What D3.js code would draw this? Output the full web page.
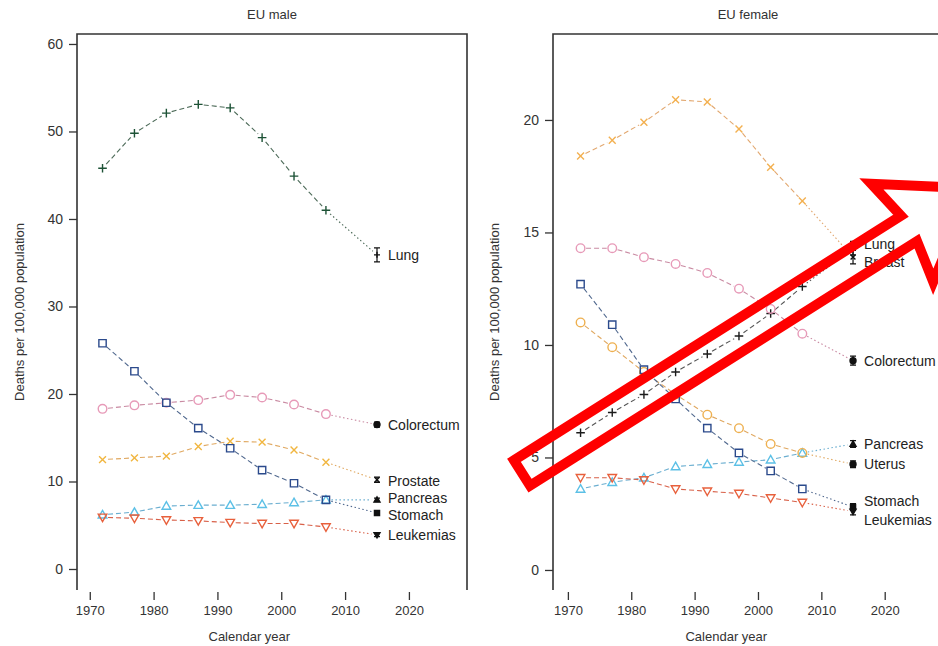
<!DOCTYPE html>
<html>
<head>
<meta charset="utf-8">
<script src="https://cdn.jsdelivr.net/npm/d3@7"></script>
<style>
  body { margin: 0; background: #fff; }
  svg { display: block; font-family: "Liberation Sans", Arial, sans-serif; }
</style>
</head>
<body>
<svg id="chart" width="938" height="646"></svg>
<script>
// observed years + 2015 prediction (last value of every series)
const years = [1972, 1977, 1982, 1987, 1992, 1997, 2002, 2007, 2015];
const xTicks = [1970, 1980, 1990, 2000, 2010, 2020];

// EU male, deaths per 100,000 population
const maleSites = ["Lung", "Colorectum", "Prostate", "Pancreas", "Stomach", "Leukemias"];
const maleLung = [45.8, 49.8, 52.1, 53.1, 52.7, 49.3, 44.9, 41.0, 35.9];
const maleColorectum = [18.3, 18.7, 19.0, 19.3, 19.9, 19.6, 18.8, 17.7, 16.5];
const maleProstate = [12.5, 12.7, 12.9, 14.0, 14.6, 14.5, 13.6, 12.2, 10.2];
const malePancreas = [6.2, 6.5, 7.2, 7.3, 7.3, 7.4, 7.6, 7.9, 7.9];
const maleStomach = [25.8, 22.6, 19.0, 16.1, 13.8, 11.3, 9.8, 7.9, 6.4];
const maleLeukemias = [5.9, 5.8, 5.6, 5.5, 5.3, 5.2, 5.2, 4.8, 3.9];
const maleHalfInterval = [0.8, 0.3, 0.3, 0.2, 0.2, 0.2];
const maleYTicks = [0, 10, 20, 30, 40, 50, 60];

// EU female, deaths per 100,000 population
const femaleSites = ["Breast", "Lung", "Colorectum", "Pancreas", "Uterus", "Stomach", "Leukemias"];
const femaleBreast = [18.4, 19.1, 19.9, 20.9, 20.8, 19.6, 17.9, 16.4, 13.9];
const femaleLung = [6.1, 7.0, 7.8, 8.8, 9.6, 10.4, 11.4, 12.6, 14.3];
const femaleColorectum = [14.3, 14.3, 13.9, 13.6, 13.2, 12.5, 11.6, 10.5, 9.3];
const femalePancreas = [3.6, 3.9, 4.1, 4.6, 4.7, 4.8, 4.9, 5.2, 5.6];
const femaleUterus = [11.0, 9.9, 8.8, 7.8, 6.9, 6.3, 5.6, 5.2, 4.7];
const femaleStomach = [12.7, 10.9, 8.9, 7.6, 6.3, 5.2, 4.4, 3.6, 2.8];
const femaleLeukemias = [4.1, 4.1, 4.0, 3.6, 3.5, 3.4, 3.2, 3.0, 2.6];
const femaleHalfInterval = [0.3, 0.3, 0.2, 0.15, 0.15, 0.15, 0.15];
const femaleYTicks = [0, 5, 10, 15, 20];

const svg = d3.select("#chart");

function markerPath(shape, r) {
  const p = d3.path();
  if (shape === "plus") {
    p.moveTo(-r, 0); p.lineTo(r, 0); p.moveTo(0, -r); p.lineTo(0, r);
  } else if (shape === "cross") {
    const s = r * 0.8;
    p.moveTo(-s, -s); p.lineTo(s, s); p.moveTo(-s, s); p.lineTo(s, -s);
  } else if (shape === "circle") {
    p.moveTo(r, 0); p.arc(0, 0, r, 0, 2 * Math.PI);
  } else if (shape === "square") {
    const s = r * 0.85;
    p.rect(-s, -s, 2 * s, 2 * s);
  } else if (shape === "triangle") {
    p.moveTo(0, -r); p.lineTo(r, r * 0.75); p.lineTo(-r, r * 0.75); p.closePath();
  } else if (shape === "triangleDown") {
    p.moveTo(0, r); p.lineTo(r, -r * 0.75); p.lineTo(-r, -r * 0.75); p.closePath();
  }
  return p.toString();
}

function drawPanel(cfg) {
  const x = d3.scaleLinear().domain(cfg.xDomain).range([cfg.left, cfg.right]);
  const y = d3.scaleLinear().domain(cfg.yDomain).range([590, 34]);
  const g = svg.append("g");

  // title
  g.append("text")
    .attr("x", (cfg.left + cfg.left + 390) / 2)
    .attr("y", 19)
    .attr("text-anchor", "middle")
    .style("font-size", "13px")
    .attr("fill", "#333")
    .text(cfg.title);

  // frame: top, left, right (no bottom line)
  g.append("path")
    .attr("d", `M${cfg.left},590V34H${cfg.right}V590`)
    .attr("fill", "none")
    .attr("stroke", "#333")
    .attr("stroke-width", 1.6);

  // y axis
  const yAxis = g.append("g").attr("transform", `translate(${cfg.left},0)`)
    .call(d3.axisLeft(y).tickValues(cfg.yTicks).tickSize(8).tickPadding(6));
  yAxis.select(".domain").remove();
  yAxis.selectAll("line").attr("stroke", "#333").attr("stroke-width", 1.3);
  yAxis.selectAll("text").style("font-size", "14px").attr("fill", "#333")
    .style("font-family", "Liberation Sans, Arial, sans-serif");

  // x axis (ticks detached from frame)
  const xAxis = g.append("g").attr("transform", "translate(0,592)")
    .call(d3.axisBottom(x).tickValues(xTicks).tickFormat(d3.format("d")).tickSize(8).tickPadding(6));
  xAxis.select(".domain").remove();
  xAxis.selectAll("line").attr("stroke", "#333").attr("stroke-width", 1.3);
  xAxis.selectAll("text").style("font-size", "13px").attr("fill", "#333")
    .style("font-family", "Liberation Sans, Arial, sans-serif");

  g.append("text")
    .attr("x", (x(1970) + x(2020)) / 2)
    .attr("y", 641)
    .attr("text-anchor", "middle")
    .style("font-size", "13px")
    .attr("fill", "#333")
    .text("Calendar year");

  g.append("text")
    .attr("transform", `translate(${cfg.yLabelX},312) rotate(-90)`)
    .attr("text-anchor", "middle")
    .style("font-size", "13px")
    .attr("fill", "#333")
    .text("Deaths per 100,000 population");

  const gap = 5.5;
  cfg.series.forEach(s => {
    const pts = years.map((yr, i) => [x(yr), y(s.values[i])]);
    const segs = d3.pairs(pts);
    g.append("g").selectAll("line")
      .data(segs)
      .join("line")
      .each(function (d) {
        const [a, b] = d;
        const dx = b[0] - a[0], dy = b[1] - a[1];
        const len = Math.hypot(dx, dy);
        const ux = dx / len, uy = dy / len;
        d3.select(this)
          .attr("x1", a[0] + ux * gap).attr("y1", a[1] + uy * gap)
          .attr("x2", b[0] - ux * gap).attr("y2", b[1] - uy * gap);
      })
      .attr("stroke", s.lineColor)
      .attr("stroke-width", 1.1)
      .attr("stroke-dasharray", (d, i) => i === segs.length - 1 ? "1.5,2.5" : "5,3");

    // observed points: open markers
    g.append("g").selectAll("path")
      .data(pts.slice(0, -1))
      .join("path")
      .attr("transform", d => `translate(${d[0]},${d[1]})`)
      .attr("d", markerPath(s.shape, 4.3))
      .attr("fill", "none")
      .attr("stroke", s.color)
      .attr("stroke-width", 1.4);

    // prediction with interval
    const yr = years[years.length - 1];
    const v = s.values[s.values.length - 1];
    const h = s.half;
    const px = x(yr);
    const pg = g.append("g");
    pg.append("path")
      .attr("d", `M${px},${y(v + h)}V${y(v - h)}M${px - 3},${y(v + h)}H${px + 3}M${px - 3},${y(v - h)}H${px + 3}`)
      .attr("stroke", "#111").attr("stroke-width", 1.2).attr("fill", "none");
    pg.append("path")
      .attr("transform", `translate(${px},${y(v)})`)
      .attr("d", markerPath(s.shape, 3))
      .attr("fill", "#111")
      .attr("stroke", "#111")
      .attr("stroke-width", 1.4);

    g.append("text")
      .attr("x", px + 11)
      .attr("y", y(v) + (s.nudge || 0))
      .attr("dy", "0.35em")
      .style("font-size", "14px")
      .attr("fill", "#222")
      .text(s.name);
  });
}

const maleStyle = {
  Lung: { shape: "plus", color: "#1d5236", lineColor: "#4c6a58" },
  Colorectum: { shape: "circle", color: "#e79ab8", lineColor: "#c98aa2" },
  Prostate: { shape: "cross", color: "#f1b640", lineColor: "#e0a860" },
  Pancreas: { shape: "triangle", color: "#5cc0e6", lineColor: "#6aaed0" },
  Stomach: { shape: "square", color: "#2b4a8c", lineColor: "#50688e" },
  Leukemias: { shape: "triangleDown", color: "#e8603c", lineColor: "#d86048" }
};
const femaleStyle = {
  Breast: { shape: "cross", color: "#f3b050", lineColor: "#e2a870" },
  Lung: { shape: "plus", color: "#1b1b1b", lineColor: "#555" },
  Colorectum: { shape: "circle", color: "#e79ab8", lineColor: "#c98aa2" },
  Pancreas: { shape: "triangle", color: "#5cc0e6", lineColor: "#6aaed0" },
  Uterus: { shape: "circle", color: "#eeb050", lineColor: "#e0a860" },
  Stomach: { shape: "square", color: "#2b4a8c", lineColor: "#50688e" },
  Leukemias: { shape: "triangleDown", color: "#e8603c", lineColor: "#d86048" }
};
const maleNudge = { Prostate: 1, Pancreas: -2, Stomach: 2 };
const femaleNudge = { Lung: -4, Breast: 5, Stomach: -6, Leukemias: 9 };

const maleValues = [maleLung, maleColorectum, maleProstate, malePancreas, maleStomach, maleLeukemias];
const femaleValues = [femaleBreast, femaleLung, femaleColorectum, femalePancreas, femaleUterus, femaleStomach, femaleLeukemias];

drawPanel({
  title: "EU male",
  left: 77, right: 467,
  xDomain: [1968, 2029.1],
  yDomain: [-2.4, 61.14],
  yTicks: maleYTicks,
  yLabelX: 24,
  series: maleSites.map((name, i) => Object.assign({ name, values: maleValues[i], half: maleHalfInterval[i], nudge: maleNudge[name] }, maleStyle[name]))
});

drawPanel({
  title: "EU female",
  left: 553, right: 943,
  xDomain: [1967.65, 2029.2],
  yDomain: [-0.89, 23.82],
  yTicks: femaleYTicks,
  yLabelX: 499,
  series: femaleSites.map((name, i) => Object.assign({ name, values: femaleValues[i], half: femaleHalfInterval[i], nudge: femaleNudge[name] }, femaleStyle[name]))
});

// red arrow annotation drawn over the female panel
(function () {
  const S = [522, 473], d = [0.845, -0.534], n = [0.534, 0.845];
  const L = 458, w = 15, W = 58;
  const local = [[0, -w], [L, -w], [L - 8, -W], [L + 75, 0], [L - 8, W], [L, w], [0, w]];
  const pts = local.map(([u, v]) => [S[0] + u * d[0] + v * n[0], S[1] + u * d[1] + v * n[1]]);
  svg.append("polygon")
    .attr("points", pts.map(p => p.join(",")).join(" "))
    .attr("fill", "none")
    .attr("stroke", "#ff0000")
    .attr("stroke-width", 10)
    .attr("stroke-linejoin", "miter");
})();
</script>
</body>
</html>
